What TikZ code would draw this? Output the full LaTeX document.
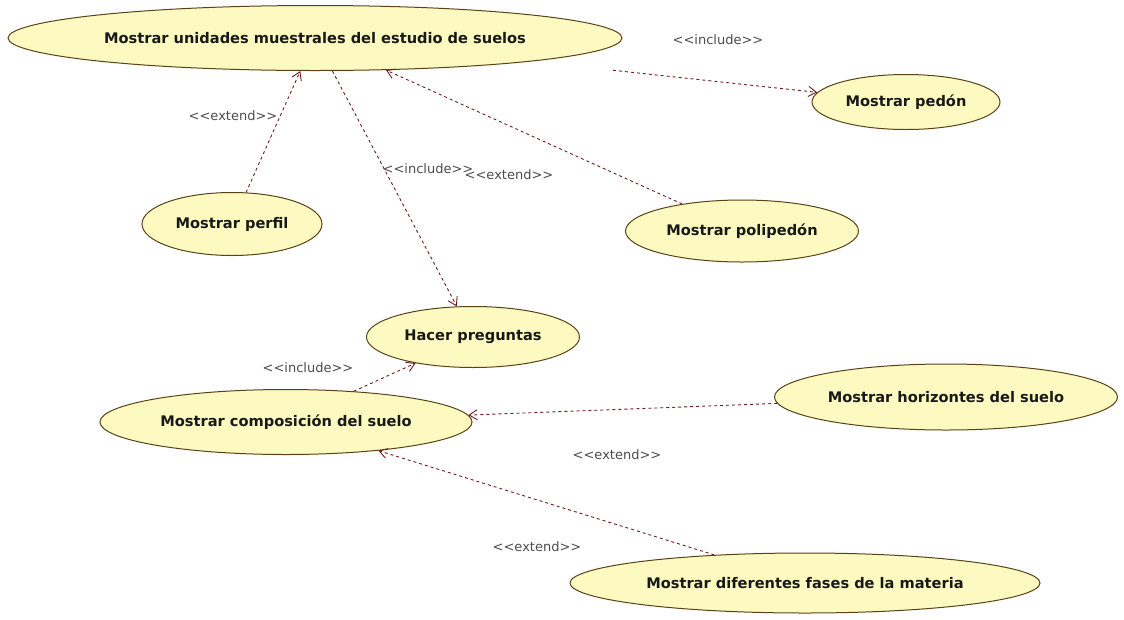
\documentclass[tikz,border=0pt]{standalone}
\usepackage{fontspec}
\setmainfont{DejaVu Sans}
\usetikzlibrary{shapes.geometric, arrows.meta}
\definecolor{casefill}{RGB}{252,250,192}
\definecolor{caseline}{RGB}{90,66,22}
\definecolor{depline}{RGB}{112,28,28}
\newcommand{\stereo}[1]{<{}<#1>{}>}
\tikzset{
  usecase/.style = {ellipse, draw=caseline, fill=casefill, line width=1pt, inner sep=0pt, text=black!90, font=\fontsize{14.6}{17}\selectfont\bfseries},
  line/.style = {draw=depline, dash pattern=on 3pt off 3pt, line width=0.9pt, -{Straight Barb[length=8pt,width=10pt]}},
  tag/.style = {font=\fontsize{13}{15}\selectfont, text=black!70, inner sep=0pt}
}
\begin{document}
\begin{tikzpicture}[x=1pt, y=-1pt]
    \useasboundingbox (0,0) rectangle (1124,619);

    % Use cases
    \node[usecase, minimum width=614pt, minimum height=65pt] (U) at (315,38) {Mostrar unidades muestrales del estudio de suelos};
    \node[usecase, minimum width=188pt, minimum height=55pt] (Pd) at (906,102) {Mostrar pedón};
    \node[usecase, minimum width=180pt, minimum height=63pt] (Pf) at (232,224) {Mostrar perfil};
    \node[usecase, minimum width=233pt, minimum height=62pt] (Pp) at (742,231) {Mostrar polipedón};
    \node[usecase, minimum width=213pt, minimum height=61pt] (H) at (473,337) {Hacer preguntas};
    \node[usecase, minimum width=372pt, minimum height=65pt] (C) at (286,422) {Mostrar composición del suelo};
    \node[usecase, minimum width=343pt, minimum height=66pt] (Hz) at (946,397) {Mostrar horizontes del suelo};
    \node[usecase, minimum width=470pt, minimum height=60pt] (F) at (805,583) {Mostrar diferentes fases de la materia};

    % Arrows
    \path [line, shorten <=82pt] (U) -- (Pd);
    \path [line] (Pf) -- (U);
    \path [line] (U) -- (H);
    \path [line] (Pp) -- (U);
    \path [line] (C) -- (H);
    \path [line] (Hz) -- (C);
    \path [line] (F) -- (C);

    % Stereotypes
    \node[tag] (incPd) at (718,40) {\stereo{include}};
    \node[tag] (extPf) at (233,116) {\stereo{extend}};
    \node[tag] (incH) at (428,169) {\stereo{include}};
    \node[tag] (extPp) at (509,175) {\stereo{extend}};
    \node[tag] (incC) at (308,368) {\stereo{include}};
    \node[tag] (extHz) at (617,455) {\stereo{extend}};
    \node[tag] (extF) at (537,547) {\stereo{extend}};

\end{tikzpicture}
\end{document}
